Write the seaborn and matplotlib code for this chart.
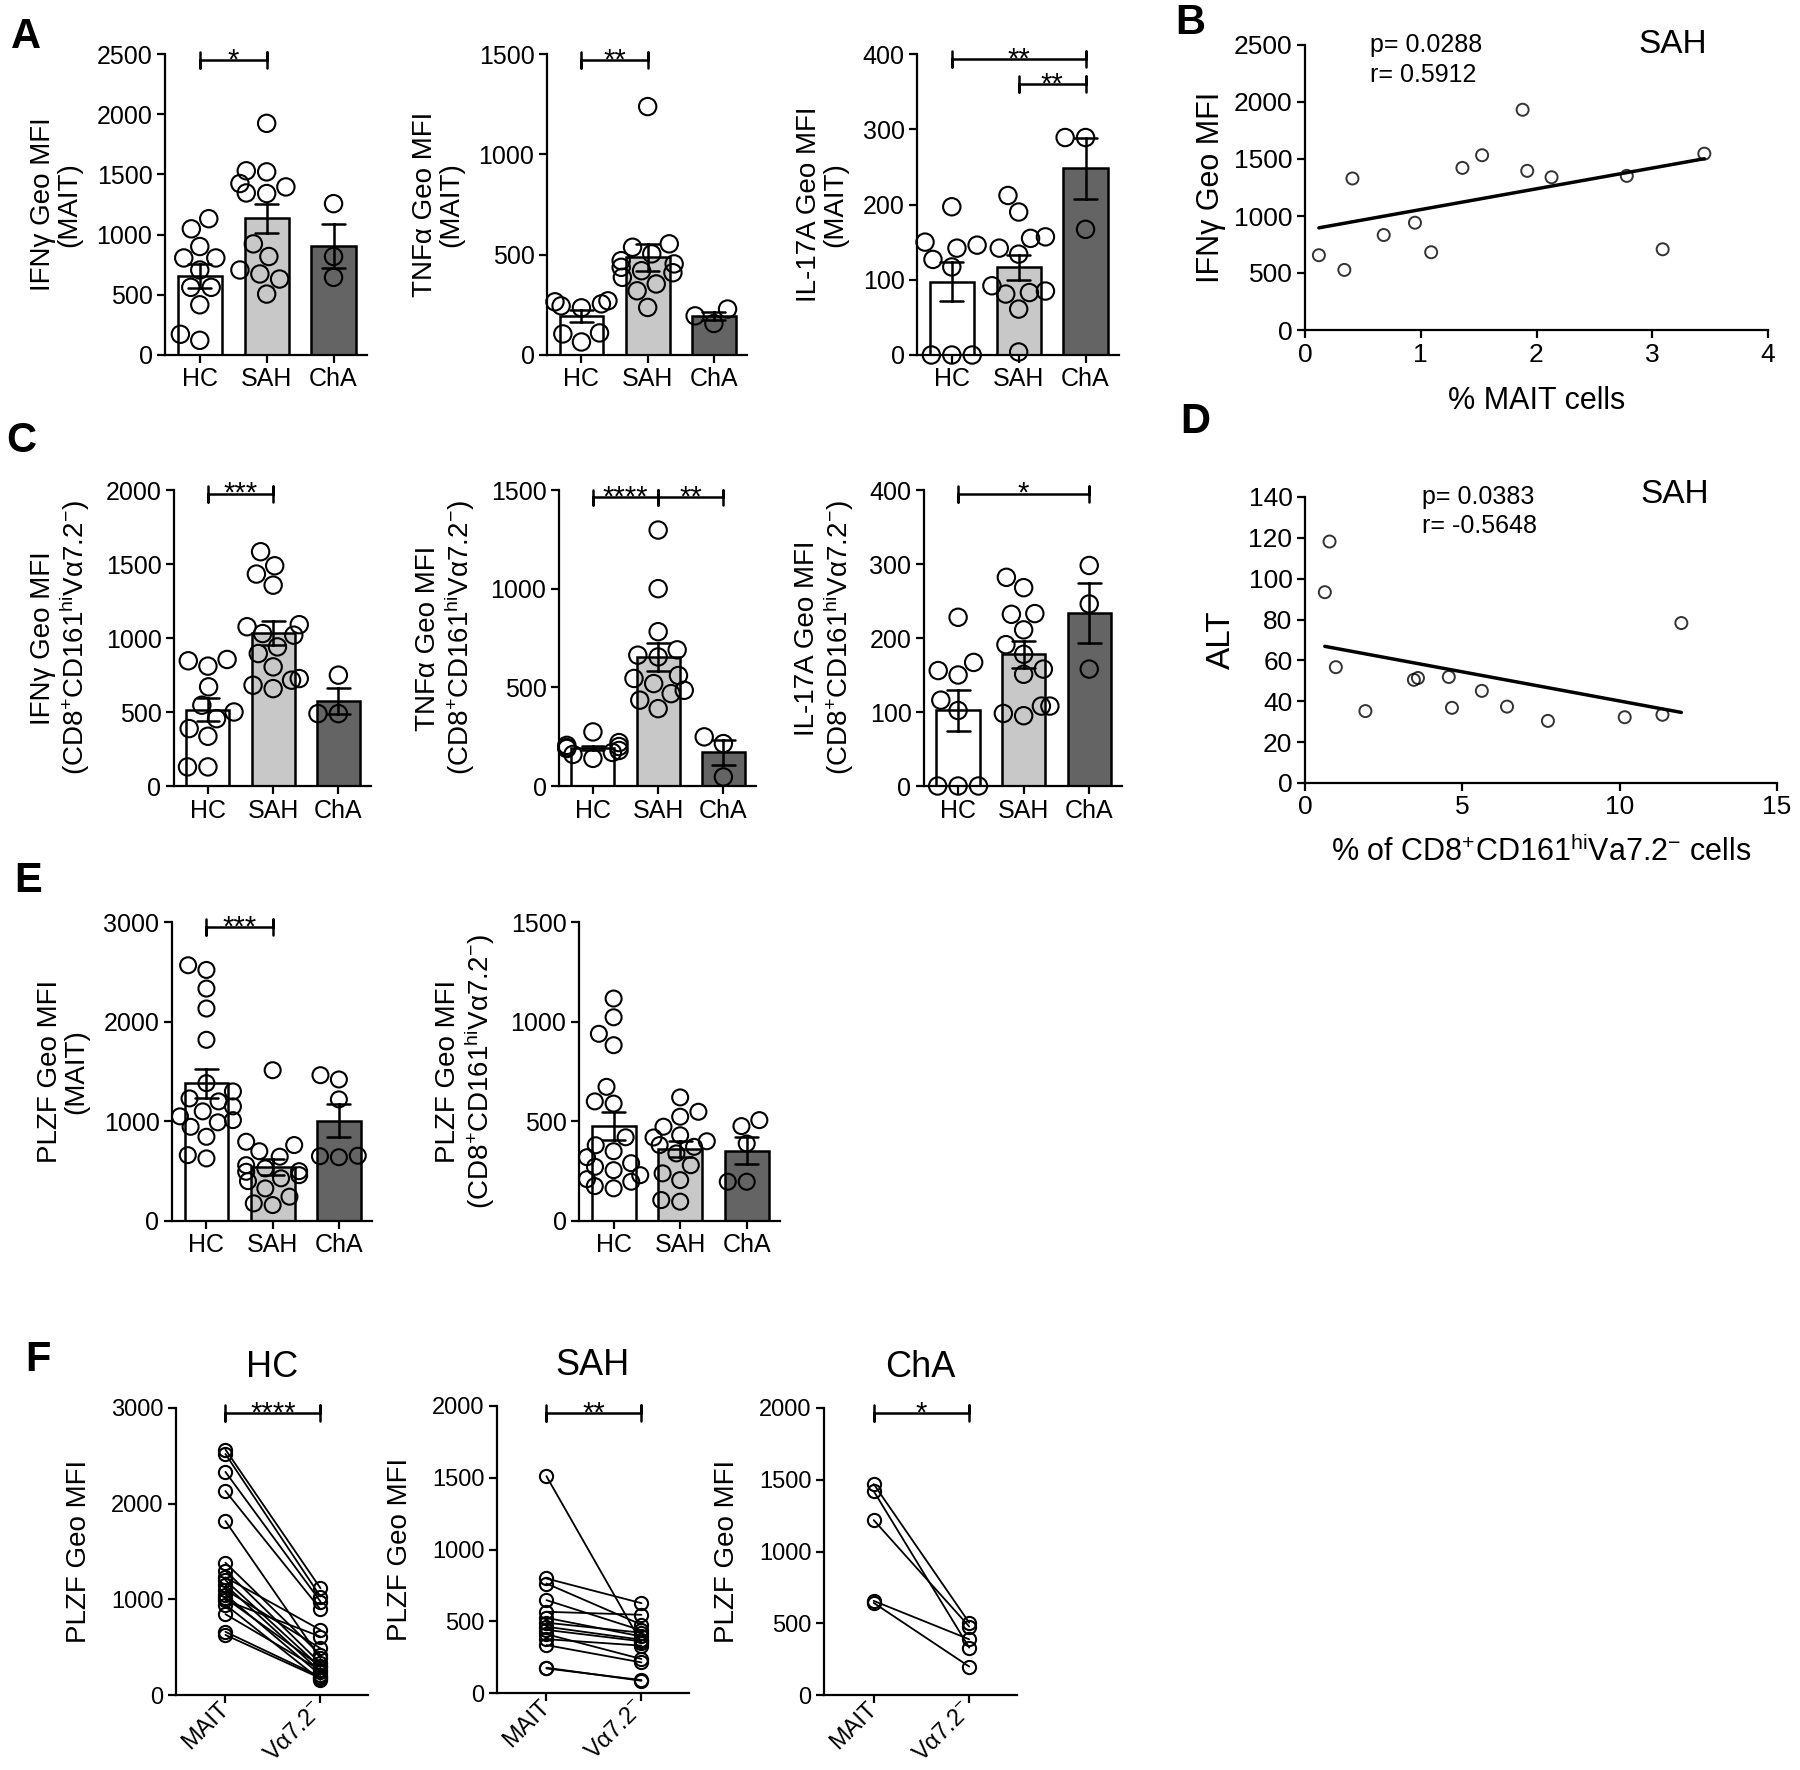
import numpy as np
import pandas as pd
import seaborn as sns
import matplotlib.pyplot as plt

groups = ['HC', 'SAH', 'ChA']
bar_colors = ['white', '#c8c8c8', '#646464']

# A - MAIT cells
ifng_mait_hc = [1132, 1048, 901, 806, 806, 706, 562, 562, 417, 122, 172]
ifng_mait_sah = [1924, 1530, 1521, 1424, 1396, 1346, 1341, 923, 818, 673, 706, 631, 506]
ifng_mait_cha = [1257, 818, 645]
tnfa_mait_hc = [270, 255, 265, 245, 235, 110, 105, 65]
tnfa_mait_sah = [1238, 554, 537, 504, 470, 454, 437, 420, 410, 387, 354, 320, 237]
tnfa_mait_cha = [229, 195, 157]
il17_mait_hc = [197, 146, 150, 142, 127, 117, 0, 0, 0]
il17_mait_sah = [212, 190, 157, 155, 142, 134, 92, 85, 83, 81, 61, 4]
il17_mait_cha = [289, 289, 167]

# C - CD8+CD161hi Va7.2- cells
ifng_va_hc = [846, 855, 810, 670, 546, 500, 455, 388, 336, 129, 129]
ifng_va_sah = [1583, 1488, 1432, 1357, 1090, 1076, 1030, 1019, 940, 895, 805, 726, 715, 681, 658]
ifng_va_cha = [749, 489, 489]
tnfa_va_hc = [274, 220, 206, 200, 195, 190, 180, 170, 160, 140]
tnfa_va_sah = [1297, 1000, 782, 690, 663, 654, 560, 545, 519, 485, 468, 435, 392]
tnfa_va_cha = [249, 215, 46]
il17_va_hc = [228, 167, 156, 150, 116, 102, 0, 0, 0]
il17_va_sah = [282, 268, 233, 232, 211, 191, 178, 158, 151, 108, 108, 98, 95]
il17_va_cha = [298, 246, 158]

# E - PLZF
plzf_mait_hc = [2566, 2519, 2332, 2132, 1818, 1383, 1300, 1230, 1200, 1150, 1100, 1050,
                1012, 990, 945, 845, 661, 628]
plzf_mait_sah = [1513, 795, 762, 700, 645, 560, 528, 500, 494, 460, 428, 400, 327, 244, 177, 160]
plzf_mait_cha = [1420, 1463, 1220, 650, 640, 655]
plzf_va_hc = [1116, 1022, 939, 882, 673, 600, 589, 420, 380, 350, 320, 290, 272, 255, 230,
              210, 197, 175, 164]
plzf_va_sah = [620, 548, 523, 473, 430, 419, 400, 381, 372, 339, 280, 239, 205, 105, 97]
plzf_va_cha = [476, 506, 389, 197, 197]

# F - paired PLZF (MAIT vs Va7.2-)
pair_hc_mait = [2566, 2519, 2332, 2132, 1818, 1383, 1300, 1230, 1200, 1150, 1100, 1050,
                1012, 990, 945, 845, 661, 628]
pair_hc_va = [1116, 1029, 977, 896, 384, 419, 331, 680, 289, 244, 488, 209, 300, 610, 157,
              260, 190, 175]
pair_sah_mait = [1511, 798, 763, 647, 566, 524, 490, 462, 440, 410, 375, 334, 176, 171]
pair_sah_va = [350, 626, 476, 436, 545, 394, 420, 371, 360, 237, 330, 213, 85, 90]
pair_cha_mait = [1470, 1421, 1219, 656, 642]
pair_cha_va = [504, 330, 477, 388, 198]

# B - correlation in SAH
mait_pct = [0.12, 0.34, 0.41, 0.68, 0.95, 1.09, 1.36, 1.53, 1.88, 1.92, 2.13, 2.78, 3.09, 3.45]
mait_ifng = [656, 527, 1329, 833, 941, 682, 1422, 1533, 1932, 1396, 1340, 1352, 708, 1547]

# D - correlation in SAH
va_pct = [0.63, 0.78, 0.98, 1.92, 3.46, 3.59, 4.57, 4.67, 5.62, 6.42, 7.72, 10.16, 11.36, 11.96]
alt = [93.4, 118.2, 56.7, 35.2, 50.5, 51.4, 51.9, 36.8, 45.1, 37.4, 30.4, 32.2, 33.4, 78.3]

sns.set_style('ticks')
plt.rcParams['font.family'] = ['Liberation Sans', 'DejaVu Sans']
plt.rcParams['mathtext.fontset'] = 'custom'
plt.rcParams['mathtext.rm'] = 'Liberation Sans'
plt.rcParams['mathtext.it'] = 'Liberation Sans:italic'
plt.rcParams['mathtext.bf'] = 'Liberation Sans:bold'
for k in ['axes.edgecolor', 'xtick.color', 'ytick.color', 'text.color', 'axes.labelcolor']:
    plt.rcParams[k] = 'black'

W, H = 1800, 1770
fig = plt.figure(figsize=(W / 100, H / 100), dpi=100)

va_label = 'CD8$^{+}$CD161$^{\\mathrm{hi}}$V\u03b17.2$^{-}$'


def add_ax(x0, x1, y0, y1):
    return fig.add_axes([x0 / W, 1 - y1 / H, (x1 - x0) / W, (y1 - y0) / H])


def style_axes(ax, ymax, ystep, labelsize=18):
    ax.set_ylim(0, ymax)
    ax.set_yticks(np.arange(0, ymax + 1, ystep))
    sns.despine(ax=ax)
    for s in ['left', 'bottom']:
        ax.spines[s].set_linewidth(1.6)
    ax.tick_params(direction='out', length=6, width=1.6, labelsize=labelsize, pad=3)


def bracket(ax, x1, x2, y, label, ymax):
    d = ymax * 0.027
    ax.plot([x1, x1, x1, x2, x2, x2], [y + d, y - d, y, y, y + d, y - d],
            color='black', lw=1.8, clip_on=False)
    ax.annotate(label, xy=((x1 + x2) / 2, y), xytext=(0, -6), textcoords='offset points',
                ha='center', va='baseline', fontsize=21)


def bar_panel(ax, hc, sah, cha, ymax, ystep, ylabel, sigs, msize=12.5):
    df = pd.DataFrame({'group': ['HC'] * len(hc) + ['SAH'] * len(sah) + ['ChA'] * len(cha),
                       'value': hc + sah + cha})
    sns.barplot(data=df, x='group', y='value', hue='group', order=groups, hue_order=groups,
                palette=bar_colors, errorbar='se', capsize=0.35, width=0.66,
                edgecolor='black', linewidth=1.8,
                err_kws={'color': 'black', 'linewidth': 1.8}, legend=False, ax=ax)
    sns.swarmplot(data=df, x='group', y='value', order=groups, color='black', size=msize,
                  linewidth=1.5, edgecolor='black', warn_thresh=1, ax=ax)
    for coll in ax.collections:
        coll.set_facecolor('none')
        coll.set_edgecolor('black')
        coll.set_clip_on(False)
    ax.set_xlim(-0.52, 2.5)
    style_axes(ax, ymax, ystep)
    ax.set_xlabel('')
    ax.set_ylabel(ylabel, fontsize=20, labelpad=10, linespacing=1.05)
    for x1, x2, y, lab in sigs:
        bracket(ax, x1, x2, y, lab, ymax)


def paired_panel(ax, mait, va, ymax, ystep, title, sig):
    n = len(mait)
    df = pd.DataFrame({'subject': list(range(n)) * 2, 'cell': [0] * n + [1] * n,
                       'value': mait + va})
    sns.lineplot(data=df, x='cell', y='value', units='subject', estimator=None, color='black',
                 lw=1.3, marker='o', markersize=9.5, markerfacecolor='none',
                 markeredgecolor='black', markeredgewidth=1.5, legend=False, ax=ax)
    for line in ax.lines:
        line.set_clip_on(False)
    ax.set_xlim(-0.52, 1.5)
    style_axes(ax, ymax, ystep, labelsize=17)
    ax.set_xticks([0, 1], ['MAIT', 'V\u03b17.2$^{-}$'], rotation=45, ha='right', va='center',
                  rotation_mode='anchor', fontsize=17)
    ax.tick_params(axis='x', pad=2)
    ax.set_xlabel('')
    ax.set_ylabel('PLZF Geo MFI', fontsize=20, labelpad=14)
    ax.set_title(title, fontsize=26, pad=22)
    bracket(ax, 0, 1, sig[0], sig[1], ymax)


# row A
bar_panel(add_ax(165, 367, 54, 355), ifng_mait_hc, ifng_mait_sah, ifng_mait_cha, 2500, 500,
          'IFN\u03b3 Geo MFI\n(MAIT)', [(0, 1, 2450, '*')])
bar_panel(add_ax(547, 747, 54, 355), tnfa_mait_hc, tnfa_mait_sah, tnfa_mait_cha, 1500, 500,
          'TNF\u03b1 Geo MFI\n(MAIT)', [(0, 1, 1470, '**')])
bar_panel(add_ax(917, 1119, 54, 355), il17_mait_hc, il17_mait_sah, il17_mait_cha, 400, 100,
          'IL-17A Geo MFI\n(MAIT)', [(0, 2, 393, '**'), (1, 2, 360, '**')])

# B
ax = add_ax(1305, 1768, 45, 330)
sns.regplot(x=mait_pct, y=mait_ifng, ci=None, ax=ax,
            scatter_kws=dict(s=75, facecolors='none', edgecolors='black', linewidths=1.4,
                             clip_on=False),
            line_kws=dict(color='black', lw=2.5))
ax.set_xlim(0, 4)
ax.set_xticks(range(0, 5))
style_axes(ax, 2500, 500, labelsize=19)
ax.set_xlabel('% MAIT cells', fontsize=22, labelpad=14)
ax.set_ylabel('IFN\u03b3 Geo MFI', fontsize=22, labelpad=6)
ax.text(0.56, 2500, 'p= 0.0288', fontsize=18, va='center')
ax.text(0.56, 2238, 'r= 0.5912', fontsize=18, va='center')
ax.text(3.18, 2500, 'SAH', fontsize=24, ha='center', va='center')

# row C
bar_panel(add_ax(174, 371, 490, 786), ifng_va_hc, ifng_va_sah, ifng_va_cha, 2000, 500,
          'IFN\u03b3 Geo MFI\n(' + va_label + ')', [(0, 1, 1975, '***')])
bar_panel(add_ax(559, 756, 490, 786), tnfa_va_hc, tnfa_va_sah, tnfa_va_cha, 1500, 500,
          'TNF\u03b1 Geo MFI\n(' + va_label + ')', [(0, 1, 1462, '****'), (1, 2, 1462, '**')])
bar_panel(add_ax(924, 1122, 490, 786), il17_va_hc, il17_va_sah, il17_va_cha, 400, 100,
          'IL-17A Geo MFI\n(' + va_label + ')', [(0, 2, 395, '*')])

# D
ax = add_ax(1305, 1777, 497, 783)
sns.regplot(x=va_pct, y=alt, ci=None, ax=ax,
            scatter_kws=dict(s=75, facecolors='none', edgecolors='black', linewidths=1.4,
                             clip_on=False),
            line_kws=dict(color='black', lw=2.5))
ax.set_xlim(0, 15)
ax.set_xticks([0, 5, 10, 15])
style_axes(ax, 140, 20, labelsize=19)
ax.set_xlabel('% of CD8$^{+}$CD161$^{\\mathrm{hi}}$Va7.2$^{-}$ cells', fontsize=22, labelpad=12)
ax.set_ylabel('ALT', fontsize=24, labelpad=8)
ax.text(3.72, 140, 'p= 0.0383', fontsize=18, va='center')
ax.text(3.72, 125.8, 'r= -0.5648', fontsize=18, va='center')
ax.text(11.75, 141, 'SAH', fontsize=24, ha='center', va='center')

# row E
bar_panel(add_ax(172, 372, 922, 1221), plzf_mait_hc, plzf_mait_sah, plzf_mait_cha, 3000, 1000,
          'PLZF Geo MFI\n(MAIT)', [(0, 1, 2950, '***')], msize=11.5)
bar_panel(add_ax(579, 780, 922, 1221), plzf_va_hc, plzf_va_sah, plzf_va_cha, 1500, 500,
          'PLZF Geo MFI\n(' + va_label + ')', [], msize=11.5)

# row F
paired_panel(add_ax(176, 368, 1408, 1695), pair_hc_mait, pair_hc_va, 3000, 1000, 'HC',
             (2950, '****'))
paired_panel(add_ax(497, 689, 1406, 1693), pair_sah_mait, pair_sah_va, 2000, 500, 'SAH',
             (1950, '**'))
paired_panel(add_ax(824, 1017, 1408, 1695), pair_cha_mait, pair_cha_va, 2000, 500, 'ChA',
             (1965, '*'))

# panel letters
for letter, x, y in [('A', 26, 37), ('B', 1190, 23), ('C', 21, 441), ('D', 1195, 422),
                     ('E', 28, 881), ('F', 38, 1360)]:
    fig.text(x / W, 1 - y / H, letter, fontsize=30, fontweight='bold', ha='center', va='center')

fig.savefig('out.png', dpi=100)
